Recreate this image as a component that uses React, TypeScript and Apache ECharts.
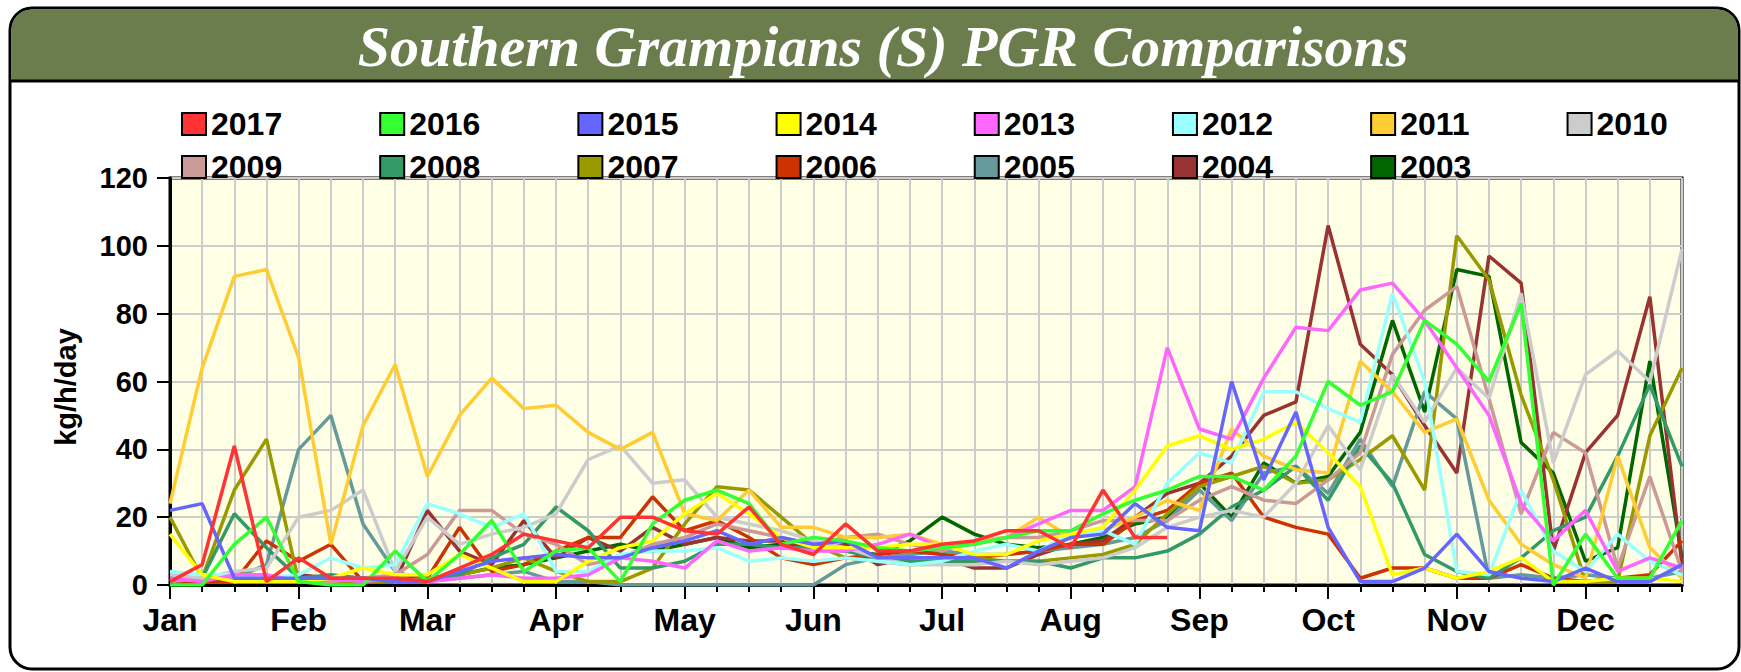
import React, { useEffect, useRef } from 'react';
import * as echarts from 'echarts';

const months = ['Jan', 'Feb', 'Mar', 'Apr', 'May', 'Jun', 'Jul', 'Aug', 'Sep', 'Oct', 'Nov', 'Dec'];
const categories: string[] = months.flatMap((m) => [m, m + ' w2', m + ' w3', m + ' w4']);

const yTicks = { min: 0, max: 120, interval: 20 };

const y2017 = [1, 6, 41, 1, 8, 2, 2, 2, 1, 5, 9, 15, 13, 11, 20, 20, 16, 15, 23, 12, 9, 18, 10, 10, 12, 13, 16, 16, 11, 28, 14, 14, null, null, null, null, null, null, null, null, null, null, null, null, null, null, null, null];
const y2016 = [0, 0, 12, 20, 1, 0, 0, 10, 1, 9, 19, 4, 10, 11, 1, 18, 25, 28, 24, 12, 14, 13, 11, 10, 11, 12, 14, 16, 16, 21, 25, 28, 32, 32, 28, 38, 60, 53, 57, 78, 71, 60, 83, 0, 15, 2, 2, 19];
const y2015 = [22, 24, 2, 2, 2, 2, 2, 1, 1, 4, 7, 8, 9, 8, 8, 11, 13, 16, 12, 14, 12, 13, 8, 8, 8, 8, 5, 10, 14, 15, 24, 17, 16, 60, 31, 51, 17, 1, 1, 5, 15, 4, 2, 1, 5, 1, 1, 6];
const y2014 = [15, 3, 1, 1, 1, 2, 5, 3, 3, 9, 5, 1, 1, 7, 11, 13, 21, 27, 21, 14, 11, 11, 11, 12, 12, 9, 9, 13, 15, 17, 28, 41, 44, 40, 43, 48, 39, 29, 3, 5, 2, 4, 8, 1, 1, 2, 2, 1];
const y2013 = [2, 1, 3, 3, 1, 2, 1, 2, 1, 2, 3, 2, 2, 3, 8, 7, 5, 13, 10, 11, 10, 10, 12, 15, 11, 12, 14, 18, 22, 22, 29, 70, 46, 43, 61, 76, 75, 87, 89, 78, 64, 50, 24, 13, 22, 4, 8, 5];
const y2012 = [4, 3, 3, 2, 3, 8, 5, 6, 24, 21, 17, 21, 4, 4, 9, 10, 10, 11, 7, 8, 7, 8, 7, 6, 7, 10, 12, 10, 15, 16, 12, 30, 39, 36, 57, 57, 52, 48, 86, 60, 4, 3, 28, 10, 4, 15, 7, 3];
const y2011 = [24, 64, 91, 93, 67, 12, 47, 65, 32, 50, 61, 52, 53, 45, 40, 45, 21, 19, 28, 17, 17, 14, 14, 15, 12, 13, 14, 20, 14, 16, 20, 25, 22, 46, 38, 34, 33, 66, 57, 45, 49, 25, 12, 6, 2, 38, 11, 2];
const y2010 = [3, 2, 4, 5, 20, 22, 28, 4, 20, 12, 15, 17, 21, 37, 41, 30, 31, 20, 18, 16, 13, 11, 8, 6, 6, 6, 7, 6, 7, 8, 11, 17, 20, 22, 20, 30, 47, 34, 62, 48, 64, 55, 86, 36, 62, 69, 60, 99];
const y2009 = [1, 2, 2, 2, 1, 1, 2, 3, 9, 22, 22, 15, 12, 6, 8, 12, 14, 18, 16, 14, 12, 14, 15, 12, 10, 13, 14, 14, 16, 19, 19, 19, 25, 29, 25, 24, 31, 39, 68, 81, 88, 55, 21, 45, 39, 5, 32, 4];
const y2008 = [1, 2, 21, 11, 2, 3, 2, 1, 1, 3, 8, 12, 23, 16, 5, 5, 7, 12, 12, 11, 11, 10, 8, 7, 7, 7, 7, 7, 5, 8, 8, 10, 15, 23, 28, 35, 25, 41, 30, 9, 4, 2, 8, 16, 20, 38, 59, 35];
const y2007 = [20, 2, 28, 43, 1, 1, 1, 1, 2, 3, 5, 8, 4, 1, 1, 5, 18, 29, 28, 20, 12, 8, 7, 6, 7, 8, 7, 7, 8, 9, 12, 21, 29, 32, 35, 30, 31, 37, 44, 28, 103, 90, 56, 31, 1, 1, 44, 64];
const y2006 = [1, 1, 1, 13, 7, 12, 1, 2, 2, 17, 4, 6, 10, 14, 14, 26, 16, 19, 14, 8, 6, 8, 9, 10, 9, 8, 9, 10, 12, 12, 19, 22, 30, 33, 20, 17, 15, 2, 5, 5, 2, 2, 6, 2, 1, 2, 3, 13];
const y2005 = [2, 1, 2, 6, 40, 50, 18, 4, 1, 2, 3, 4, 1, 1, 0, 0, 0, 0, 0, 0, 0, 6, 8, 9, 10, 9, 9, 10, 11, 12, 14, 19, 28, 19, 33, 35, 27, 43, 29, 57, 49, 2, 3, 2, 3, 2, 2, 4];
const y2004 = [2, 1, 2, 1, 3, 2, 1, 1, 22, 10, 6, 19, 8, 14, 10, 17, 12, 14, 13, 13, 10, 12, 6, 8, 8, 5, 5, 9, 12, 13, 20, 27, 30, 38, 50, 54, 106, 71, 62, 47, 33, 97, 89, 10, 39, 50, 85, 6];
const y2003 = [1, 1, 1, 1, 1, 1, 2, 2, 2, 3, 5, 6, 8, 10, 12, 10, 12, 14, 11, 12, 11, 10, 9, 13, 20, 15, 12, 11, 12, 14, 18, 20, 30, 20, 36, 30, 32, 45, 78, 51, 93, 91, 42, 33, 7, 11, 66, 8];

const seriesNames = ['2017', '2016', '2015', '2014', '2013', '2012', '2011', '2010', '2009', '2008', '2007', '2006', '2005', '2004', '2003'];
const seriesValues = [y2017, y2016, y2015, y2014, y2013, y2012, y2011, y2010, y2009, y2008, y2007, y2006, y2005, y2004, y2003];
const seriesColors = ['#FF3333', '#33FF33', '#6666FF', '#FFFF00', '#FF66FF', '#99FFFF', '#FFCC33', '#CCCCCC', '#CC9999', '#339966', '#999900', '#CC3300', '#669999', '#993333', '#006600'];

const titleText = 'Southern Grampians (S) PGR Comparisons';
const yAxisTitle = 'kg/h/day';

const SANS = '"Liberation Sans", Arial, sans-serif';
const SERIF = '"Liberation Serif", "Times New Roman", serif';

export default function App() {
  const ref = useRef<HTMLDivElement>(null);
  useEffect(() => {
    const chart = echarts.init(ref.current!, null, { renderer: 'svg' });

    const legendCommon = {
      left: 181,
      padding: 0,
      orient: 'horizontal',
      icon: 'rect',
      itemWidth: 24,
      itemHeight: 22,
      itemGap: 97,
      selectedMode: false,
      itemStyle: { borderColor: '#000', borderWidth: 2 },
      textStyle: { fontSize: 32, fontWeight: 'bold', color: '#000', fontFamily: SANS },
    };

    // draw oldest first so newest is on top
    const order = seriesNames.map((_, i) => i).reverse();
    const series = order.map((i) => ({
      name: seriesNames[i],
      type: 'line',
      data: seriesValues[i],
      xAxisIndex: 0,
      yAxisIndex: 0,
      showSymbol: false,
      symbol: 'none',
      connectNulls: false,
      color: seriesColors[i],
      itemStyle: { color: seriesColors[i] },
      lineStyle: { color: seriesColors[i], width: 3.5 },
    }));

    chart.setOption({
      animation: false,
      backgroundColor: '#ffffff',
      grid: {
        left: 170,
        right: 59,
        top: 178,
        bottom: 87,
        show: true,
        backgroundColor: '#FFFFE6',
        borderColor: '#000',
        borderWidth: 3,
      },
      legend: [
        { ...legendCommon, top: 108, data: seriesNames.slice(0, 8) },
        { ...legendCommon, top: 151, data: seriesNames.slice(8) },
      ],
      xAxis: [
        {
          type: 'category',
          data: categories,
          boundaryGap: false,
          axisLine: { show: true, lineStyle: { color: '#000', width: 3 } },
          axisTick: { show: true, interval: 3, length: 14, lineStyle: { color: '#000', width: 2 } },
          axisLabel: {
            interval: 3,
            formatter: (v: string) => v.split(' ')[0],
            fontSize: 32,
            fontWeight: 'bold',
            color: '#000',
            fontFamily: SANS,
            margin: 19,
          },
          splitLine: { show: false },
        },
        {
          type: 'category',
          data: categories,
          boundaryGap: false,
          position: 'bottom',
          axisLine: { show: false },
          axisTick: { show: true, interval: 0, length: 7, lineStyle: { color: '#000', width: 2 } },
          axisLabel: { show: false },
          splitLine: { show: true, interval: 0, lineStyle: { color: '#CCCCCC', width: 2 } },
        },
      ],
      yAxis: {
        type: 'value',
        min: yTicks.min,
        max: yTicks.max,
        interval: yTicks.interval,
        axisLine: { show: true, lineStyle: { color: '#000', width: 3 } },
        axisTick: { show: true, length: 13, lineStyle: { color: '#000', width: 2 } },
        axisLabel: { fontSize: 29, fontWeight: 'bold', color: '#000', fontFamily: SANS, margin: 22 },
        splitLine: { show: true, lineStyle: { color: '#CCCCCC', width: 2 } },
      },
      graphic: [
        {
          type: 'rect',
          z: -10,
          shape: { x: 10, y: 8, width: 1729, height: 661, r: 22 },
          style: { fill: '#ffffff', stroke: '#000', lineWidth: 3 },
        },
        {
          type: 'rect',
          z: -9,
          shape: { x: 11.5, y: 9.5, width: 1726, height: 71, r: [20, 20, 0, 0] },
          style: { fill: '#6B7D4C' },
        },
        {
          type: 'line',
          z: -8,
          shape: { x1: 10, y1: 81, x2: 1739, y2: 81 },
          style: { stroke: '#000', lineWidth: 3 },
        },
        {
          type: 'text',
          z: 10,
          x: 883,
          y: 46,
          style: {
            text: titleText,
            fill: '#ffffff',
            fontSize: 58,
            fontWeight: 'bold',
            fontStyle: 'italic',
            fontFamily: SERIF,
            align: 'center',
            verticalAlign: 'middle',
          },
        },
        {
          type: 'text',
          z: 10,
          x: 66,
          y: 387,
          rotation: Math.PI / 2,
          style: {
            text: yAxisTitle,
            fill: '#000',
            fontSize: 29,
            fontWeight: 'bold',
            fontFamily: SANS,
            align: 'center',
            verticalAlign: 'middle',
          },
        },
      ],
      series,
    });
    return () => chart.dispose();
  }, []);
  return <div ref={ref} style={{ position: 'absolute', left: 0, top: 0, width: 1741, height: 672 }} />;
}
